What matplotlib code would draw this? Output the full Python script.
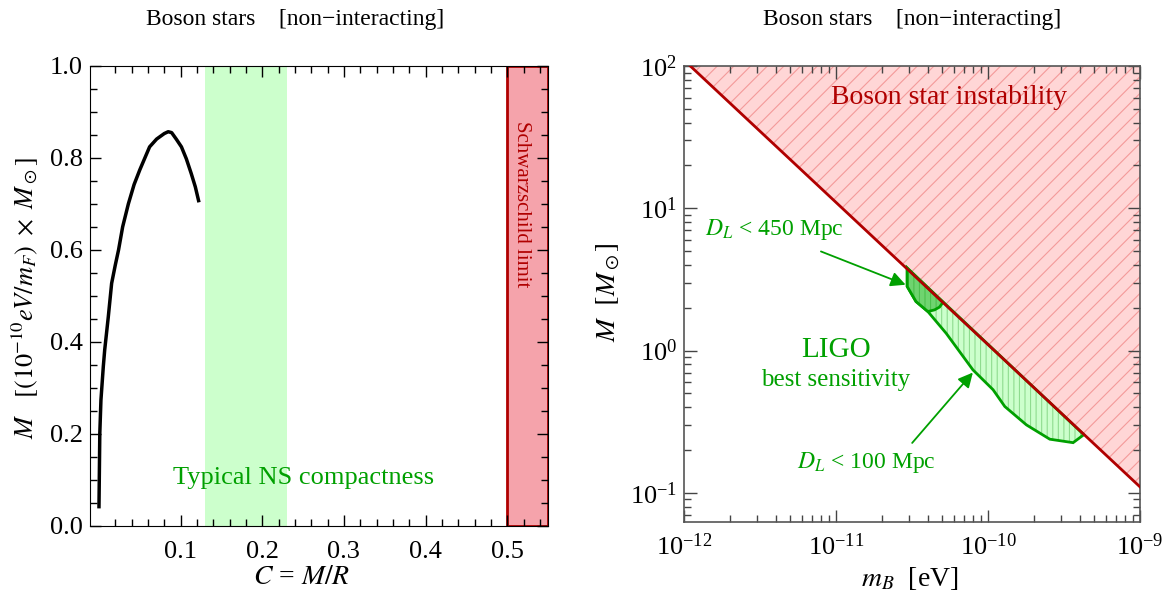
import numpy as np
import matplotlib
matplotlib.use("Agg")
import matplotlib.pyplot as plt
from matplotlib.patches import Polygon
from matplotlib.ticker import FixedLocator, MultipleLocator, LogLocator, NullFormatter, FormatStrFormatter

plt.rcParams['font.family'] = ['Liberation Serif', 'DejaVu Serif']
plt.rcParams['mathtext.fontset'] = 'stix'
plt.rcParams['hatch.linewidth'] = 0.8

# left panel: boson star mass vs compactness
comp = [0.0, 0.001, 0.0024, 0.0053, 0.007, 0.0114, 0.0155, 0.020, 0.024, 0.029,
        0.036, 0.043, 0.050, 0.062, 0.0706, 0.080, 0.0848, 0.089, 0.095, 0.101,
        0.107, 0.113, 0.118, 0.122]
mass = [0.041, 0.20, 0.273, 0.346, 0.382, 0.454, 0.527, 0.567, 0.600, 0.650,
        0.700, 0.742, 0.774, 0.824, 0.841, 0.853, 0.857, 0.855, 0.840, 0.824,
        0.798, 0.766, 0.737, 0.707]
ns_band = [0.13, 0.23]
schw_band = [0.5, 0.55]

# right panel: instability line and LIGO regions (m_B in eV, M in Msun)
inst_m = [1.1e-12, 1e-9]
inst_M = [100.0, 0.11]
d100_m = [2.94e-11, 4.27e-10, 3.63e-10, 2.55e-10, 1.79e-10, 1.29e-10, 1.08e-10,
          7.96e-11, 5.31e-11, 4.02e-11, 3.36e-11, 2.94e-11]
d100_M = [3.80, 0.256, 0.225, 0.238, 0.30, 0.404, 0.53,
          0.731, 1.32, 1.88, 2.21, 2.82]
d450_m = [2.94e-11, 5.05e-11, 4.8e-11, 4.45e-11, 4.02e-11, 3.36e-11, 2.94e-11]
d450_M = [3.80, 2.18, 2.02, 1.93, 1.88, 2.21, 2.82]

green = '#00a000'
dred = '#b00000'

fig = plt.figure(figsize=(11.7, 5.94), dpi=100)
ax1 = fig.add_axes([90/1170, 68.5/594, 458/1170, 459.5/594])
ax2 = fig.add_axes([684/1170, 71.7/594, 456/1170, 456.3/594])

# ---- left panel
ax1.axvspan(ns_band[0], ns_band[1], color='#ccffcc', lw=0, zorder=0)
ax1.axvspan(schw_band[0], schw_band[1], facecolor='#f5a3ab', edgecolor=dred, lw=2, zorder=1)
ax1.plot(comp, mass, color='black', lw=2.5, zorder=3, solid_joinstyle='round')
ax1.set_xlim(-0.011, 0.55)
ax1.set_ylim(0, 1)
ax1.xaxis.set_major_locator(FixedLocator([0.1, 0.2, 0.3, 0.4, 0.5]))
ax1.xaxis.set_minor_locator(FixedLocator([0.02, 0.04, 0.06, 0.08, 0.12, 0.14, 0.16, 0.18,
                                          0.22, 0.24, 0.26, 0.28, 0.32, 0.34, 0.36, 0.38,
                                          0.42, 0.44, 0.46, 0.48, 0.52, 0.54]))
ax1.xaxis.set_major_formatter(FormatStrFormatter('%.1f'))
ax1.yaxis.set_major_locator(MultipleLocator(0.2))
ax1.yaxis.set_minor_locator(MultipleLocator(0.05))
ax1.yaxis.set_major_formatter(FormatStrFormatter('%.1f'))
ax1.tick_params(which='both', direction='in', top=True, right=True, labelsize=19)
ax1.tick_params(axis='x', pad=11)
ax1.tick_params(axis='y', pad=5)
ax1.tick_params(which='major', length=8, width=1)
ax1.tick_params(which='minor', length=5, width=1)
ax1.text(0.25, 0.103, 'Typical NS compactness', color=green, fontsize=19,
         ha='center', va='center')
ax1.text(0.518, 0.70, 'Schwarzschild limit', color=dred, fontsize=15,
         rotation=-90, ha='center', va='center')

fig.text(295/1170, 1 - 20/594, 'Boson stars    [non\u2212interacting]', fontsize=17,
         ha='center', va='center')
fig.text(302/1170, 1 - 578/594, r'$C$ = $M/R$', fontsize=20, ha='center', va='center')
fig.text(25/1170, 1 - 298/594,
         r'$M\ \ \ [(\mathit{10}^{-10}eV/m_F)\ \times\ M_\odot]$',
         fontsize=19, rotation=90, ha='center', va='center')

# ---- right panel
ax2.set_xscale('log')
ax2.set_yscale('log')
ax2.set_xlim(1e-12, 1e-9)
ax2.set_ylim(0.062, 100)

red_poly = list(zip(inst_m, inst_M)) + [(1e-9, 100.0)]
ax2.add_patch(Polygon(red_poly, closed=True, facecolor='#ffd6d6', edgecolor='none', zorder=1))
ax2.add_patch(Polygon(red_poly, closed=True, facecolor='none', edgecolor='#f49a9a',
                      lw=0, hatch='//', zorder=1.5))
ax2.plot(inst_m, inst_M, color=dred, lw=2, zorder=4)

p100 = list(zip(d100_m, d100_M))
ax2.add_patch(Polygon(p100, closed=True, facecolor='#ccffcc', edgecolor='none', zorder=2))
ax2.add_patch(Polygon(p100, closed=True, facecolor='none', edgecolor='#8fdc8f',
                      lw=0, hatch='|||', zorder=2.2))
ax2.add_patch(Polygon(p100, closed=True, facecolor='none', edgecolor=green, lw=2, zorder=3))

p450 = list(zip(d450_m, d450_M))
ax2.add_patch(Polygon(p450, closed=True, facecolor='#6fd46f', edgecolor='none', zorder=3.1))
ax2.add_patch(Polygon(p450, closed=True, facecolor='none', edgecolor='#4cbf4c',
                      lw=0, hatch='|||', zorder=3.2))
ax2.add_patch(Polygon(p450, closed=True, facecolor='none', edgecolor=green, lw=2, zorder=3.3))

ax2.xaxis.set_major_locator(LogLocator(base=10, numticks=10))
ax2.xaxis.set_minor_locator(LogLocator(base=10, subs=np.arange(2, 10), numticks=30))
ax2.yaxis.set_major_locator(LogLocator(base=10, numticks=10))
ax2.yaxis.set_minor_locator(LogLocator(base=10, subs=np.arange(2, 10), numticks=30))
ax2.xaxis.set_minor_formatter(NullFormatter())
ax2.yaxis.set_minor_formatter(NullFormatter())
ax2.tick_params(which='both', direction='in', top=True, right=True, labelsize=19,
                color='#444444')
ax2.tick_params(axis='x', pad=8)
ax2.tick_params(axis='y', pad=5)
ax2.tick_params(which='major', length=9, width=1)
ax2.tick_params(which='minor', length=5, width=1)
for s in ax2.spines.values():
    s.set_color('#555555')
    s.set_linewidth(1.2)

ax2.text(5.5e-11, 59.7, 'Boson star instability', color=dred, fontsize=20,
         ha='center', va='center', zorder=5)
ax2.text(1e-11, 1.01, 'LIGO', color=green, fontsize=21, ha='center', va='center', zorder=5)
ax2.text(1e-11, 0.62, 'best sensitivity', color=green, fontsize=18, ha='center',
         va='center', zorder=5)
ax2.text(3.92e-12, 7.05, r'$D_L$ < 450 Mpc', color=green, fontsize=17, ha='center',
         va='center', zorder=5)
ax2.text(1.58e-11, 0.163, r'$D_L$ < 100 Mpc', color=green, fontsize=17, ha='center',
         va='center', zorder=5)
ax2.annotate('', xy=(2.87e-11, 2.90), xytext=(7.96e-12, 4.97),
             arrowprops=dict(arrowstyle='-|>', color=green, lw=1.3, mutation_scale=22,
                             shrinkA=0, shrinkB=0), zorder=5)
ax2.annotate('', xy=(7.95e-11, 0.70), xytext=(3.17e-11, 0.224),
             arrowprops=dict(arrowstyle='-|>', color=green, lw=1.3, mutation_scale=22,
                             shrinkA=0, shrinkB=0), zorder=5)

fig.text(912/1170, 1 - 20/594, 'Boson stars    [non\u2212interacting]', fontsize=17,
         ha='center', va='center')
fig.text(910/1170, 1 - 578/594, r'$m_B$  [eV]', fontsize=20, ha='center', va='center')
fig.text(608/1170, 1 - 292/594, r'$M\ \ [M_\odot]$', fontsize=20, rotation=90,
         ha='center', va='center')

fig.savefig('out.png', dpi=100)
